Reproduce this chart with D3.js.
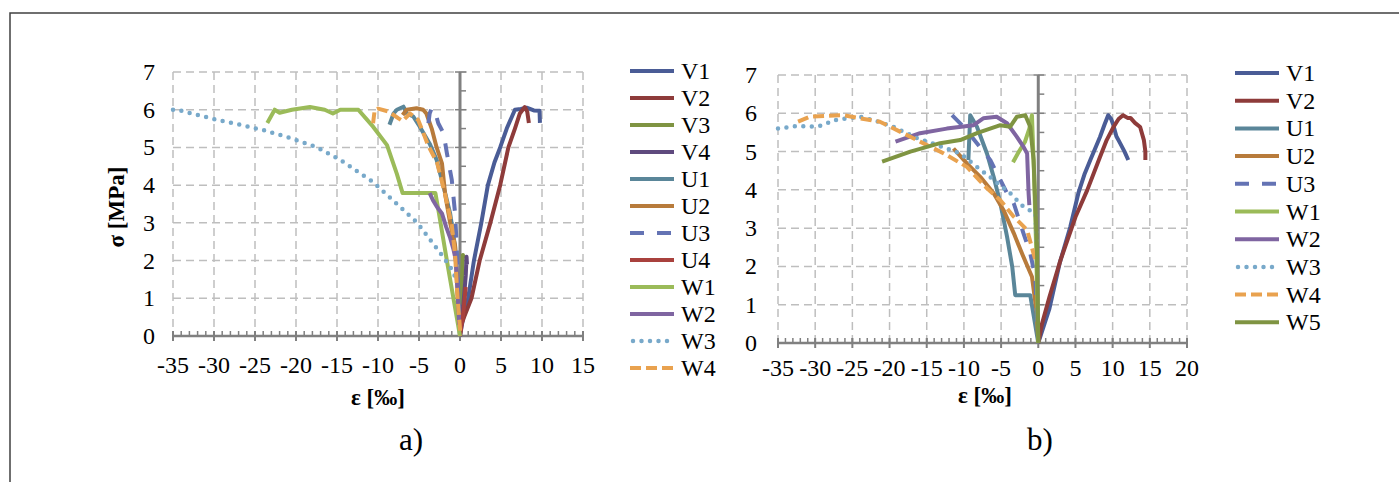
<!DOCTYPE html>
<html>
<head>
<meta charset="utf-8">
<script src="https://cdn.jsdelivr.net/npm/d3@7"></script>
<style>
  body { margin: 0; background: #fff; }
  svg { display: block; }
  text { font-family: "Liberation Serif", "Times New Roman", serif; fill: #000; }
</style>
</head>
<body>
<svg id="fig" width="1399" height="482"></svg>
<script>
// ---------- panel a) : stress–strain curves, σ [MPa] vs ε [‰] ----------
const aV1 = [[0,0],[0.4,0.5],[1.0,1.0],[1.7,2.0],[2.6,3.0],[3.4,4.0],[4.2,4.6],[4.9,5.0],[5.7,5.5],[6.7,6.0],[7.4,6.02],[8.2,6.05],[9.0,5.98],[9.7,5.97],[9.75,5.65]];
const aV2 = [[0,0.2],[0.5,0.5],[1.4,1.0],[2.4,2.0],[3.7,3.0],[4.9,4.0],[5.9,5.0],[6.7,5.5],[7.3,5.9],[7.9,6.07],[8.2,5.95],[8.4,5.65]];
const aV3 = [[0,0.3],[0.2,1.2],[0.35,2.15],[0.5,2.05]];
const aV4 = [[0,0],[0.4,0.8],[0.7,1.6],[0.8,2.1],[0.85,1.9]];
const aU1 = [[-8.6,5.6],[-8.1,5.9],[-7.7,6.0],[-6.9,6.08],[-6.5,5.9],[-5.7,5.82],[-4.9,5.55],[-3.7,5.1],[-2.85,4.67],[-2.0,3.96],[-1.2,3.25],[-0.6,2.37],[-0.2,1.14],[0,0]];
const aU2 = [[-7.0,5.86],[-6.5,6.0],[-5.3,6.04],[-4.5,6.0],[-4.1,5.9],[-3.45,5.5],[-2.85,5.0],[-2.2,4.58],[-1.8,3.74],[-1.2,3.0],[-0.6,2.4],[-0.3,1.2],[0,0]];
const aU3 = [[-3.85,5.64],[-3.7,5.9],[-3.45,6.04],[-3.05,5.95],[-2.65,5.64],[-2.0,5.37],[-1.6,4.85],[-1.0,4.14],[-0.6,3.25],[-0.4,2.37],[-0.2,1.14],[0,0]];
const aU4 = [[0,0],[0.4,0.6],[0.7,1.3]];
const aW1 = [[-23.5,5.65],[-22.6,6.0],[-22.0,5.92],[-20.5,6.0],[-18.3,6.07],[-16.5,6.0],[-15.5,5.9],[-14.6,6.0],[-12.4,6.0],[-10.6,5.55],[-8.9,5.06],[-7.7,4.3],[-7.0,3.79],[-3.0,3.79],[-2.7,3.42],[-1.6,2.0],[0,0]];
const aW2 = [[-3.7,3.79],[-3.3,3.6],[-2.8,3.42],[-2.2,3.25],[-1.7,2.9],[-1.2,2.6],[-0.8,2.3],[-0.5,2.0],[-0.3,1.2],[-0.1,0.3]];
const aW3 = [[-35,6.0],[-34.5,6.0],[-29.6,5.73],[-26.8,5.6],[-24,5.46],[-20.7,5.25],[-17.4,5.0],[-14.6,4.67],[-10.6,4.08],[-8.2,3.6],[-5.2,3.0],[-2.4,2.2],[-1.2,1.84],[-0.6,1.57]];
const aW4 = [[-10.6,5.64],[-10.4,6.0],[-10.0,6.03],[-8.7,5.95],[-7.5,5.77],[-7.0,5.7],[-6.1,5.9],[-5.1,5.73],[-4.5,5.4],[-3.9,5.06],[-2.8,4.6],[-1.8,3.74],[-1.0,2.94],[-0.6,2.15],[-0.3,1.0],[0,0.2],[0,0]];

const aNames  = ["V1","V2","V3","V4","U1","U2","U3","U4","W1","W2","W3","W4"];
const aData   = [aV1, aV2, aV3, aV4, aU1, aU2, aU3, aU4, aW1, aW2, aW3, aW4];
const aXTicks = [-35,-30,-25,-20,-15,-10,-5,0,5,10,15];

// ---------- panel b) ----------
const bV1 = [[0,0],[1.5,0.9],[2.9,2.1],[4.3,3.03],[5.4,3.92],[6.2,4.4],[7.0,4.78],[8.3,5.38],[8.9,5.7],[9.4,5.95],[9.8,5.85],[10.1,5.69],[10.5,5.4],[11.0,5.22],[11.6,5.0],[12.1,4.78]];
const bV2 = [[0,0],[0.5,0.5],[1.5,1.2],[3.0,2.17],[5.0,3.29],[6.6,4.0],[8.3,4.86],[9.2,5.3],[10.1,5.64],[10.8,5.85],[11.4,5.95],[12.0,5.88],[12.4,5.88],[13.0,5.75],[13.7,5.64],[14.2,5.3],[14.4,5.0],[14.4,4.78]];
const bU1 = [[-9.4,4.78],[-9.15,5.95],[-8.25,5.65],[-6.9,4.95],[-6.0,4.34],[-5.1,3.65],[-4.2,2.78],[-3.5,1.99],[-3.1,1.25],[-1.08,1.25],[0,0]];
const bU2 = [[-11.4,5.08],[-9.6,4.69],[-7.8,4.34],[-6.0,3.91],[-4.67,3.47],[-3.3,2.87],[-2.0,2.25],[-0.85,1.73],[-0.2,0.78],[0,0]];
const bU3 = [[-11.6,5.95],[-10.05,5.65],[-8.25,5.22],[-6.46,4.78],[-5.1,4.26],[-4.2,3.91],[-3.3,3.65],[-2.0,2.87],[-1.08,2.34],[-0.4,1.73],[0,0]];
const bW1 = [[-3.4,4.72],[-2.6,5.0],[-1.8,5.25],[-1.2,5.6],[-0.85,5.95],[-0.6,4.6],[-0.3,2.6],[0,0]];
const bW2 = [[-19.2,5.26],[-15.9,5.48],[-12.3,5.6],[-8.7,5.69],[-7.4,5.87],[-5.6,5.91],[-4.2,5.74],[-2.9,5.39],[-2.0,5.13],[-1.5,4.95],[-1.3,3.91],[-1.2,3.6]];
const bW3 = [[-35,5.6],[-32.5,5.67],[-30.2,5.65],[-28.9,5.69],[-27.5,5.82],[-24,5.91],[-22.2,5.82],[-19.5,5.65],[-16.3,5.35],[-13.6,5.17],[-10.5,4.95],[-8.25,4.6],[-6.0,4.26],[-3.77,3.91],[-2.0,3.56],[-0.4,3.39],[-0.2,2.6]];
const bW4 = [[-32.3,5.78],[-30.7,5.91],[-26.2,5.95],[-24.0,5.87],[-21.3,5.78],[-18.6,5.52],[-15.9,5.26],[-12.7,4.95],[-9.6,4.6],[-6.9,4.04],[-5.1,3.73],[-3.3,3.3],[-1.5,2.95],[-0.4,2.17]];
const bW5 = [[-21.0,4.74],[-17.2,5.0],[-13.2,5.22],[-10.5,5.3],[-8.25,5.48],[-5.1,5.69],[-3.77,5.65],[-2.87,5.91],[-1.75,5.95],[-1.08,5.65],[-0.63,4.78],[-0.18,2.52],[0,0]];

const bNames  = ["V1","V2","U1","U2","U3","W1","W2","W3","W4","W5"];
const bData   = [bV1, bV2, bU1, bU2, bU3, bW1, bW2, bW3, bW4, bW5];
const bXTicks = [-35,-30,-25,-20,-15,-10,-5,0,5,10,15,20];

const yTicks = [0,1,2,3,4,5,6,7];

// series styling by specimen name
const style = {
  V1: { color: "#4A5C96" },
  V2: { color: "#8E3B3A" },
  V3: { color: "#7F9442" },
  V4: { color: "#5F4A7E" },
  U1: { color: "#5A8699" },
  U2: { color: "#B87B3B" },
  U3: { color: "#6473B4", dash: "14,13" },
  U4: { color: "#A9413D" },
  W1: { color: "#9BBB59" },
  W2: { color: "#7F65A1" },
  W3: { color: "#78A9CA", dash: "0,8.5", cap: "round" },
  W4: { color: "#E9A24F", dash: "11,5" },
  W5: { color: "#7F9442" }
};

const svg = d3.select("#fig");

// frame around the figure
svg.append("path")
  .attr("d", "M1399,13H10V482")
  .attr("fill", "none").attr("stroke", "#404040").attr("stroke-width", 1.5);

function drawPanel(cfg) {
  const g = svg.append("g");
  const x = d3.scaleLinear().domain(cfg.xDomain).range([cfg.left, cfg.right]);
  const y = d3.scaleLinear().domain([0, 7]).range([cfg.bottom, cfg.top]);
  const y0 = y(0), x0 = x(0);

  // dashed grid
  g.selectAll(".gx").data(cfg.xTicks.filter(d => d !== 0)).join("line")
    .attr("x1", d => x(d)).attr("x2", d => x(d))
    .attr("y1", y(7)).attr("y2", y0)
    .attr("stroke", "#BEBEBE").attr("stroke-width", 1.5).attr("stroke-dasharray", "8,5");
  g.selectAll(".gy").data(yTicks.filter(d => d > 0)).join("line")
    .attr("x1", cfg.left).attr("x2", cfg.right)
    .attr("y1", d => y(d)).attr("y2", d => y(d))
    .attr("stroke", "#BEBEBE").attr("stroke-width", 1.5).attr("stroke-dasharray", "8,5");

  // horizontal axis at σ = 0 with minor ticks every 1 ‰
  const minorX = d3.range(cfg.xDomain[0], cfg.xDomain[1] + 0.01, 1);
  g.selectAll(".mx").data(minorX).join("line")
    .attr("x1", d => x(d)).attr("x2", d => x(d))
    .attr("y1", y0 - 5).attr("y2", y0)
    .attr("stroke", "#808080").attr("stroke-width", 1.5);
  g.selectAll(".tx").data(cfg.xTicks).join("line")
    .attr("x1", d => x(d)).attr("x2", d => x(d))
    .attr("y1", y0 - 5).attr("y2", y0 + 5)
    .attr("stroke", "#808080").attr("stroke-width", 2);
  g.append("line").attr("x1", cfg.left).attr("x2", cfg.right)
    .attr("y1", y0).attr("y2", y0)
    .attr("stroke", "#808080").attr("stroke-width", 2.5);

  // vertical axis at ε = 0 with minor ticks every 0.5 MPa
  const minorY = d3.range(0.5, 7, 1);
  g.selectAll(".my").data(minorY).join("line")
    .attr("x1", x0).attr("x2", x0 + 6)
    .attr("y1", d => y(d)).attr("y2", d => y(d))
    .attr("stroke", "#808080").attr("stroke-width", 1.5);
  g.selectAll(".ty").data(yTicks).join("line")
    .attr("x1", x0 - 5).attr("x2", x0 + 6)
    .attr("y1", d => y(d)).attr("y2", d => y(d))
    .attr("stroke", "#808080").attr("stroke-width", 1.5);
  g.append("line").attr("x1", x0).attr("x2", x0)
    .attr("y1", y0).attr("y2", y(7))
    .attr("stroke", "#808080").attr("stroke-width", 3);

  // tick labels
  g.selectAll(".lx").data(cfg.xTicks).join("text")
    .attr("x", d => x(d)).attr("y", y0 + cfg.xLabelDy)
    .attr("text-anchor", "middle").attr("font-size", 24)
    .text(d => d);
  g.selectAll(".ly").data(yTicks).join("text")
    .attr("x", cfg.left - cfg.yLabelGap).attr("y", d => y(d) + 8)
    .attr("text-anchor", "end").attr("font-size", 24)
    .text(d => d);

  // curves
  const line = d3.line().x(d => x(d[0])).y(d => y(d[1]));
  cfg.names.forEach((name, i) => {
    const s = style[name];
    g.append("path").datum(cfg.data[i])
      .attr("d", line)
      .attr("fill", "none")
      .attr("stroke", s.color)
      .attr("stroke-width", s.cap ? 4.5 : 4)
      .attr("stroke-linejoin", "round")
      .attr("stroke-linecap", s.cap || "butt")
      .attr("stroke-dasharray", s.dash || null);
  });

  // legend
  const lg = g.append("g");
  cfg.names.forEach((name, i) => {
    const s = style[name];
    const ly = cfg.legend.y + i * cfg.legend.step;
    const x1 = cfg.legend.x + (s.cap ? 3 : 0);
    lg.append("line")
      .attr("x1", x1).attr("x2", cfg.legend.x + 44)
      .attr("y1", ly).attr("y2", ly)
      .attr("stroke", s.color).attr("stroke-width", s.cap ? 4.5 : 4)
      .attr("stroke-linecap", s.cap || "butt")
      .attr("stroke-dasharray", s.dash || null);
    lg.append("text")
      .attr("x", cfg.legend.x + 51).attr("y", ly + 8)
      .attr("font-size", 24).text(name);
  });

  // axis titles and caption
  if (cfg.yTitle) {
    g.append("text")
      .attr("transform", `translate(${cfg.yTitle.x},${cfg.yTitle.y}) rotate(-90)`)
      .attr("text-anchor", "middle").attr("font-size", 23).attr("font-weight", "bold")
      .text("σ [MPa]");
  }
  g.append("text")
    .attr("x", cfg.xTitle.x).attr("y", cfg.xTitle.y)
    .attr("text-anchor", "middle").attr("font-size", 23).attr("font-weight", "bold")
    .text("ε [‰]");
  g.append("text")
    .attr("x", cfg.caption.x).attr("y", cfg.caption.y)
    .attr("text-anchor", "middle").attr("font-size", 31)
    .text(cfg.caption.text);
}

drawPanel({
  xDomain: [-35, 15], xTicks: aXTicks,
  left: 173, right: 583, top: 72, bottom: 336,
  xLabelDy: 37, yLabelGap: 18,
  names: aNames, data: aData,
  legend: { x: 630, y: 71, step: 27 },
  yTitle: { x: 124, y: 207 },
  xTitle: { x: 378, y: 405 },
  caption: { x: 411, y: 450, text: "a)" }
});

drawPanel({
  xDomain: [-35, 20], xTicks: bXTicks,
  left: 778, right: 1187, top: 75, bottom: 343,
  xLabelDy: 33, yLabelGap: 21,
  names: bNames, data: bData,
  legend: { x: 1235, y: 73, step: 27.7 },
  xTitle: { x: 985, y: 403 },
  caption: { x: 1040, y: 450, text: "b)" }
});
</script>
</body>
</html>
